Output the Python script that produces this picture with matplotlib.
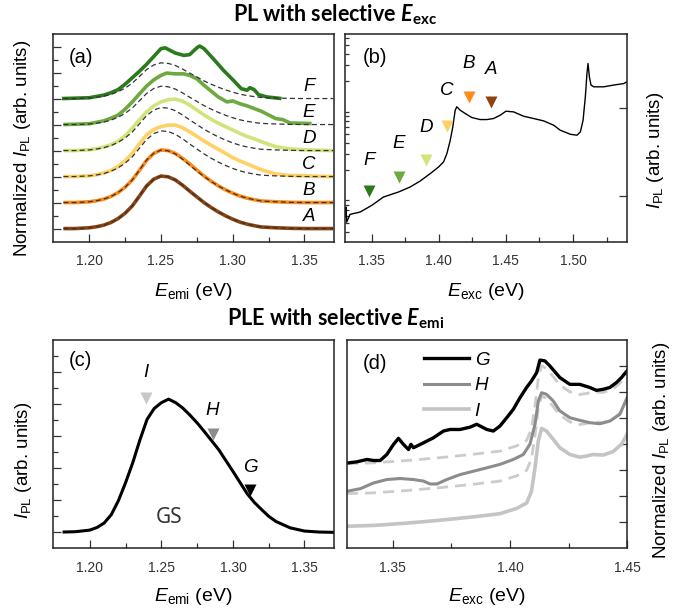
import numpy as np
import matplotlib
matplotlib.use('Agg')
import matplotlib.pyplot as plt

plt.rcParams['font.family'] = ['Liberation Sans', 'DejaVu Sans']
plt.rcParams['mathtext.fontset'] = 'custom'
plt.rcParams['mathtext.rm'] = 'Liberation Sans'
plt.rcParams['mathtext.it'] = 'Liberation Sans:italic'
plt.rcParams['mathtext.bf'] = 'Lato:bold'
plt.rcParams['mathtext.bfit'] = 'Lato:italic:bold'

# ---- (a) PL spectra, normalized, offset by 1 each
x_a = [1.182, 1.19, 1.20, 1.205, 1.21, 1.215, 1.22, 1.225, 1.23, 1.235, 1.24, 1.245,
       1.25, 1.255, 1.26, 1.265, 1.27, 1.275, 1.28, 1.285, 1.29, 1.295, 1.30, 1.305,
       1.31, 1.315, 1.32, 1.33, 1.34, 1.35, 1.36, 1.37]
pl_A = [0, 0, 0.03, 0.07, 0.13, 0.23, 0.38, 0.59, 0.87, 1.25, 1.64, 1.90,
        2.02, 1.99, 1.87, 1.67, 1.44, 1.22, 1.00, 0.81, 0.64, 0.49, 0.36, 0.25,
        0.17, 0.11, 0.06, 0.03, 0.01, 0, 0, 0]
pl_B = [0, 0, 0.03, 0.07, 0.13, 0.23, 0.38, 0.59, 0.87, 1.24, 1.62, 1.89,
        2.02, 2.00, 1.89, 1.70, 1.49, 1.25, 1.02, 0.82, 0.64, 0.49, 0.36, 0.25,
        0.17, 0.11, 0.06, 0.03, 0.01, 0, 0, 0]
pl_C = [0, 0, 0.03, 0.07, 0.13, 0.23, 0.38, 0.60, 0.89, 1.26, 1.60, 1.81,
        1.92, 1.98, 1.98, 1.88, 1.72, 1.55, 1.37, 1.20, 1.05, 0.89, 0.73, 0.60,
        0.49, 0.37, 0.26, 0.10, 0.04, 0.03, 0.01, 0]
pl_D = [0, 0, 0.03, 0.07, 0.13, 0.22, 0.35, 0.57, 0.86, 1.18, 1.49, 1.72,
        1.87, 1.96, 1.98, 1.90, 1.75, 1.56, 1.37, 1.20, 1.05, 0.92, 0.79, 0.66,
        0.54, 0.45, 0.34, 0.15, 0.06, 0.03, 0.01, 0]
x_e = [1.182, 1.20, 1.21, 1.215, 1.22, 1.225, 1.23, 1.235, 1.24, 1.245, 1.25, 1.254,
       1.26, 1.266, 1.27, 1.275, 1.28, 1.29, 1.296, 1.30, 1.305, 1.31, 1.32, 1.33,
       1.335, 1.34, 1.355]
pl_E = [0, 0.03, 0.14, 0.24, 0.36, 0.59, 0.87, 1.18, 1.48, 1.72, 1.89, 1.98,
        1.95, 1.95, 1.89, 1.76, 1.51, 1.06, 0.87, 0.91, 0.80, 0.72, 0.51, 0.23,
        0.19, 0.06, 0.04]
x_f = [1.181, 1.20, 1.21, 1.215, 1.22, 1.225, 1.23, 1.235, 1.24, 1.245, 1.25, 1.253,
       1.26, 1.266, 1.27, 1.275, 1.277, 1.28, 1.2865, 1.2935, 1.3005, 1.306, 1.31,
       1.312, 1.315, 1.318, 1.324, 1.334]
pl_F = [0, 0.03, 0.13, 0.22, 0.34, 0.55, 0.80, 1.05, 1.32, 1.62, 1.92, 1.95,
        1.75, 1.66, 1.69, 1.95, 2.02, 1.92, 1.53, 1.09, 0.70, 0.38, 0.32,
        0.42, 0.34, 0.15, 0.06, 0]
names_a = ['A', 'B', 'C', 'D', 'E', 'F']
colors_a = ['#8e4310', '#ff8a14', '#ffd064', '#cfe57c', '#6ea940', '#2b7a1c']
ref_scale = [1.0, 1.0, 0.87, 0.82, 0.73, 0.68]   # scale of dashed reference curve

# ---- (b) PL intensity vs excitation energy (log)
x_b = [1.3301, 1.3308, 1.3313, 1.3338, 1.3413, 1.35, 1.3587, 1.3699, 1.3786, 1.3861,
       1.3935, 1.3998, 1.4035, 1.406, 1.4085, 1.4104, 1.4122, 1.4134, 1.4159, 1.4197,
       1.4246, 1.4308, 1.4358, 1.4408, 1.4458, 1.45, 1.4557, 1.4632, 1.4706, 1.4781,
       1.4856, 1.4905, 1.498, 1.503, 1.5055, 1.5075, 1.5092, 1.5104, 1.5112, 1.5122,
       1.5134, 1.5154, 1.5229, 1.5303, 1.5378, 1.5403]
i_b = [0.585, 0.758, 0.513, 0.627, 0.666, 0.792, 0.983, 1.119, 1.274, 1.489,
       1.801, 2.142, 2.44, 3.03, 4.28, 6.05, 9.33, 10.2, 9.33, 8.55,
       7.71, 7.32, 7.32, 7.52, 8.20, 9.09, 8.93, 7.98, 7.52, 7.07,
       6.32, 5.55, 5.0, 4.88, 5.32, 7.2, 13.2, 24.2, 31.3, 22.2,
       17.9, 17.1, 17.1, 17.9, 18.6, 19.5]
exc_b = [1.4388, 1.4224, 1.406, 1.3905, 1.3704, 1.348]   # A..F
mark_b = [11.6, 12.97, 6.16, 2.55, 1.65, 1.15]
lab_b = [26.8, 31.3, 15.7, 5.95, 3.93, 2.55]

# ---- (c) ground-state PL
x_c = [1.182, 1.19, 1.20, 1.205, 1.21, 1.215, 1.22, 1.225, 1.23, 1.235, 1.24, 1.245,
       1.25, 1.255, 1.26, 1.265, 1.27, 1.275, 1.28, 1.29, 1.30, 1.31, 1.315, 1.32,
       1.325, 1.33, 1.34, 1.35, 1.36, 1.37]
gs_c = [0.01, 0.02, 0.07, 0.15, 0.29, 0.55, 0.99, 1.55, 2.17, 2.88, 3.52, 3.86,
        4.04, 4.15, 4.04, 3.87, 3.65, 3.41, 3.14, 2.58, 1.90, 1.20, 0.93, 0.71,
        0.50, 0.34, 0.14, 0.04, 0.01, 0]
names_c = ['I', 'H', 'G']
emi_c = [1.2393, 1.2858, 1.3121]
mark_c = [4.2, 3.07, 1.33]
lab_c = [4.98, 3.80, 2.03]
colors_c = ['#c8c8c8', '#8c8c8c', '#000000']

# ---- (d) PLE spectra
x_g = [1.3311, 1.3347, 1.3389, 1.3418, 1.3446, 1.3474, 1.3503, 1.3524, 1.3545, 1.3567,
       1.3577, 1.3588, 1.3631, 1.3673, 1.3716, 1.3744, 1.3787, 1.383, 1.3858, 1.3901,
       1.3929, 1.3957, 1.3986, 1.4014, 1.4043, 1.4071, 1.4092, 1.4114, 1.4128, 1.4149,
       1.417, 1.4213, 1.4256, 1.4298, 1.4341, 1.4369, 1.4398, 1.4426, 1.4455, 1.4476, 1.45]
ple_G = [2.28, 2.32, 2.41, 2.37, 2.37, 2.60, 2.99, 3.22, 2.99, 2.79,
         2.99, 2.86, 3.05, 3.24, 3.50, 3.56, 3.56, 3.65, 3.76, 3.56,
         3.50, 3.69, 4.01, 4.33, 4.78, 5.17, 5.42, 5.74, 6.22, 6.19,
         6.0, 5.55, 5.29, 5.29, 5.17, 5.06, 5.10, 5.17, 5.36, 5.55, 5.81]
x_h = [1.3304, 1.3361, 1.3418, 1.3474, 1.3531, 1.3588, 1.3631, 1.3659, 1.3688, 1.373,
       1.3787, 1.3844, 1.3901, 1.3957, 1.4014, 1.4057, 1.4085, 1.4107, 1.4121, 1.4135,
       1.4156, 1.4185, 1.4213, 1.4256, 1.4298, 1.4341, 1.4384, 1.4426, 1.4469, 1.45]
ple_H = [1.19, 1.29, 1.51, 1.64, 1.68, 1.64, 1.58, 1.47, 1.47, 1.64,
         1.83, 1.96, 2.09, 2.22, 2.41, 2.60, 2.99, 3.76, 4.65, 4.97,
         4.91, 4.65, 4.27, 4.01, 3.91, 3.82, 3.78, 3.88, 4.14, 4.78]
x_i = [1.3304, 1.3418, 1.356, 1.3702, 1.3844, 1.3957, 1.4028, 1.4071, 1.4092, 1.4107,
       1.4121, 1.4135, 1.4156, 1.4185, 1.4213, 1.4256, 1.4298, 1.4327, 1.4355, 1.4398,
       1.444, 1.4476, 1.45]
ple_I = [-0.15, -0.12, -0.03, 0.08, 0.21, 0.33, 0.53, 0.74, 1.19, 2.09,
         3.12, 3.60, 3.50, 3.18, 2.86, 2.60, 2.50, 2.54, 2.60, 2.58,
         2.71, 2.99, 3.37]
ref_shift = {'G': 2.4, 'H': 1.25}   # offsets of dashed I copies

tick_col = '#333333'

def style(ax, side='left'):
    for s in ax.spines.values():
        s.set_color('#222222')
        s.set_linewidth(1.1)
    ax.tick_params(axis='both', which='both', direction='in', colors=tick_col,
                   labelsize=10, pad=9)
    ax.tick_params(which='major', length=6, width=0.9)
    ax.tick_params(which='minor', length=3.5, width=0.9)
    ax.tick_params(axis='x', top=False)
    if side == 'left':
        ax.tick_params(axis='y', left=True, right=False, labelleft=False, labelright=False)
    else:
        ax.tick_params(axis='y', left=False, right=True, labelleft=False, labelright=False)
        ax.yaxis.set_label_position('right')

fig = plt.figure(figsize=(6.75, 6.1), dpi=100)
axA = fig.add_axes([0.078, 0.604, 0.417, 0.341])
axB = fig.add_axes([0.511, 0.604, 0.418, 0.341])
axC = fig.add_axes([0.079, 0.101, 0.416, 0.342])
axD = fig.add_axes([0.514, 0.101, 0.415, 0.342])

# (a)
ys = [pl_A, pl_B, pl_C, pl_D, pl_E, pl_F]
xs = [x_a, x_a, x_a, x_a, x_e, x_f]
for k in range(6):
    axA.plot(xs[k], np.array(ys[k]) + k, color=colors_a[k], lw=2.6,
             solid_capstyle='butt', solid_joinstyle='round')
    axA.plot(x_a, np.array(pl_A) * ref_scale[k] + k, color='#333333', lw=0.9,
             dashes=(4, 2.5))
    axA.text(1.353, k + 0.45, names_a[k], style='italic', fontsize=13.5,
             ha='center', va='center')
axA.set_xlim(1.1745, 1.3707)
axA.set_ylim(-0.5, 7.5)
axA.set_xticks([1.20, 1.25, 1.30, 1.35])
axA.set_xticks([1.225, 1.275, 1.325], minor=True)
axA.set_yticks(np.arange(0, 8, 1))
axA.set_yticks(np.arange(0.5, 7.5, 1), minor=True)
style(axA)
axA.set_xlabel(r'$E_{\rm emi}$ (eV)', fontsize=14, labelpad=9)
axA.set_ylabel(r'Normalized $I_{\rm PL}$ (arb. units)', fontsize=13.5, labelpad=5)
axA.yaxis.label.set_y(0.447)
axA.text(0.1, 0.885, '(a)', transform=axA.transAxes, fontsize=14.5, ha='center', va='center')

# (b)
axB.plot(x_b, i_b, color='black', lw=1.0)
for k in range(6):
    axB.plot(exc_b[k], mark_b[k], marker='v', ms=9, color=colors_a[k], mec='none', ls='none')
    axB.text(exc_b[k], lab_b[k], names_a[k], style='italic', fontsize=13.5,
             ha='center', va='center')
axB.set_yscale('log')
axB.set_xlim(1.33, 1.5403)
axB.set_ylim(0.31, 68)
axB.set_xticks([1.35, 1.40, 1.45, 1.50])
axB.set_xticks([1.375, 1.425, 1.475, 1.525], minor=True)
style(axB, 'right')
axB.tick_params(axis='y', which='minor', length=3)
axB.set_xlabel(r'$E_{\rm exc}$ (eV)', fontsize=14, labelpad=9)
axB.set_ylabel(r'$I_{\rm PL}$ (arb. units)', fontsize=13.5, labelpad=13)
axB.yaxis.label.set_y(0.437)
axB.text(0.107, 0.885, '(b)', transform=axB.transAxes, fontsize=14.5, ha='center', va='center')

# (c)
axC.plot(x_c, gs_c, color='black', lw=2.2, solid_joinstyle='round')
for k in range(3):
    axC.plot(emi_c[k], mark_c[k], marker='v', ms=9, color=colors_c[k], mec='none', ls='none')
    axC.text(emi_c[k], lab_c[k], names_c[k], style='italic', fontsize=13.5,
             ha='center', va='center')
axC.text(1.2551, 0.47, 'GS', fontsize=15, ha='center', va='center', color='#333333',
         family=['Noto Sans', 'DejaVu Sans'])
axC.set_xlim(1.1745, 1.3707)
axC.set_ylim(-0.5, 6.0)
axC.set_xticks([1.20, 1.25, 1.30, 1.35])
axC.set_xticks([1.225, 1.275, 1.325], minor=True)
axC.set_yticks(np.arange(0, 6, 1))
axC.set_yticks(np.arange(0.5, 6.0, 1), minor=True)
style(axC)
axC.set_xlabel(r'$E_{\rm emi}$ (eV)', fontsize=14, labelpad=8)
axC.set_ylabel(r'$I_{\rm PL}$ (arb. units)', fontsize=13.5, labelpad=5)
axC.yaxis.label.set_y(0.423)
axC.text(0.095, 0.9, '(c)', transform=axC.transAxes, fontsize=14.5, ha='center', va='center')

# (d)
axD.plot(x_i, np.array(ple_I) + ref_shift['G'], color='#cccccc', lw=2, dashes=(4, 2.5))
axD.plot(x_i, np.array(ple_I) + ref_shift['H'], color='#cccccc', lw=2, dashes=(4, 2.5))
lG, = axD.plot(x_g, ple_G, color='black', lw=2.4)
lH, = axD.plot(x_h, ple_H, color='#8c8c8c', lw=2.2)
lI, = axD.plot(x_i, ple_I, color='#c4c4c4', lw=2.6)
axD.set_xlim(1.3304, 1.45)
axD.set_ylim(-1.0, 7.0)
axD.set_xticks([1.35, 1.40, 1.45])
axD.set_xticks([1.375, 1.425], minor=True)
axD.set_yticks(np.arange(0, 7, 1))
style(axD, 'right')
axD.set_xlabel(r'$E_{\rm exc}$ (eV)', fontsize=14, labelpad=8)
axD.set_ylabel(r'Normalized $I_{\rm PL}$ (arb. units)', fontsize=13.5, labelpad=17)
axD.yaxis.label.set_y(0.47)
axD.text(0.1, 0.885, '(d)', transform=axD.transAxes, fontsize=14.5, ha='center', va='center')
axD.legend([lG, lH, lI], ['G', 'H', 'I'], loc='upper left', bbox_to_anchor=(0.215, 1.025),
           frameon=False, handlelength=2.4, handletextpad=0.3, labelspacing=0.45,
           prop={'style': 'italic', 'size': 13.5})

fig.text(0.496, 0.976, r'PL with selective $\mathbfit{E}_{\mathbf{exc}}$', fontsize=15.5,
         fontweight='bold', family='Lato', ha='center', va='center')
fig.text(0.497, 0.478, r'PLE with selective $\mathbfit{E}_{\mathbf{emi}}$', fontsize=15.5,
         fontweight='bold', family='Lato', ha='center', va='center')

fig.savefig('out.png', dpi=100)
